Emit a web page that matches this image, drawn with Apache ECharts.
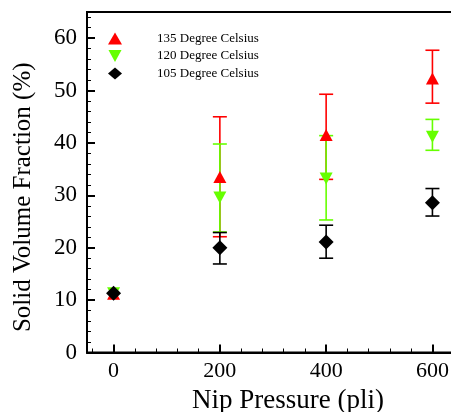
<!DOCTYPE html>
<html><head><meta charset="utf-8">
<script src="https://cdn.jsdelivr.net/npm/echarts@6/dist/echarts.min.js"></script>
<style>html,body{margin:0;padding:0;background:#fff}#c{width:451px;height:412px}</style>
</head><body><div id="c"></div>
<script>
var pressure = [0, 200, 400, 600];
var names = ['135 Degree Celsius', '120 Degree Celsius', '105 Degree Celsius'];
var colors = ['#ff0000', '#66ff00', '#000000'];
var v135 = [11.2, 33.5, 41.5, 52.3];
var lo135 = [null, 22.1, 33.05, 47.6];
var hi135 = [null, 45.0, 49.3, 57.7];
var v120 = [11.3, 29.6, 33.2, 41.2];
var lo120 = [null, 23.0, 25.3, 38.6];
var hi120 = [null, 39.8, 41.4, 44.5];
var v105 = [11.3, 20.0, 21.1, 28.6];
var lo105 = [null, 16.9, 18.0, 26.05];
var hi105 = [null, 22.9, 24.3, 31.3];
var xLabels = [0, 200, 400, 600];
var xMinor = [-40, 40, 80, 120, 160, 240, 280, 320, 360, 440, 480, 520, 560, 640];

var FONT = '"Liberation Serif", "DejaVu Serif", serif';
var symUp = 'triangle';
var symDown = 'path://M0,0L10,0L5,9.2Z';
var symDia = 'diamond';

function pts(v) { return pressure.map(function (p, i) { return [p, v[i]]; }); }
function errs(lo, hi) {
  var out = [];
  pressure.forEach(function (p, i) { if (lo[i] != null) out.push([p, lo[i], hi[i]]); });
  return out;
}
function errSeries(lo, hi, color) {
  return {
    type: 'custom', xAxisIndex: 0, yAxisIndex: 0, silent: true,
    data: errs(lo, hi),
    encode: { x: 0, y: [1, 2] },
    renderItem: function (params, api) {
      var x = api.value(0);
      var a = api.coord([x, api.value(1)]);
      var b = api.coord([x, api.value(2)]);
      var hw = 7;
      var st = { stroke: color, lineWidth: 1.6 };
      return { type: 'group', children: [
        { type: 'line', shape: { x1: a[0], y1: a[1], x2: b[0], y2: b[1] }, style: st },
        { type: 'line', shape: { x1: a[0] - hw, y1: a[1], x2: a[0] + hw, y2: a[1] }, style: st },
        { type: 'line', shape: { x1: b[0] - hw, y1: b[1], x2: b[0] + hw, y2: b[1] }, style: st }
      ]};
    }
  };
}
function scat(name, v, sym, size, color) {
  return { type: 'scatter', name: name, data: pts(v), symbol: sym, symbolSize: size,
    itemStyle: { color: color, opacity: 1 }, xAxisIndex: 0, yAxisIndex: 0 };
}

var chart = echarts.init(document.getElementById('c'), null, { renderer: 'canvas' });
chart.setOption({
  animation: false,
  backgroundColor: '#fff',
  grid: { left: 87, top: 12, right: -8, bottom: 59.5, show: true, borderColor: '#000', borderWidth: 2,
    containLabel: false, outerBoundsMode: 'none' },
  legend: {
    orient: 'vertical', left: 103, top: 27, itemWidth: 14, itemHeight: 12, itemGap: 4.5,
    textStyle: { fontFamily: FONT, fontSize: 13, color: '#000', padding: [0, 0, 0, 30] },
    data: [
      { name: names[0], icon: symUp },
      { name: names[1], icon: symDown },
      { name: names[2], icon: symDia }
    ]
  },
  xAxis: [{
    type: 'value', min: -50, max: 650, position: 'bottom',
    name: 'Nip Pressure (pli)', nameLocation: 'middle', nameGap: 34,
    nameTextStyle: { fontFamily: FONT, fontSize: 27, color: '#000', padding: [0, 0, 0, 30] },
    axisLine: { show: true, onZero: false, lineStyle: { color: '#000', width: 2 } },
    axisTick: { show: true, inside: true, length: 8, customValues: xLabels, lineStyle: { color: '#000', width: 2 } },
    axisLabel: { customValues: xLabels, fontFamily: FONT, fontSize: 22, color: '#000', margin: 8 },
    splitLine: { show: false }
  }, {
    type: 'value', min: -50, max: 650, position: 'bottom', offset: 0,
    axisLine: { show: false, onZero: false },
    axisTick: { show: true, inside: true, length: 4, customValues: xMinor, lineStyle: { color: '#000', width: 1 } },
    axisLabel: { show: true, customValues: xMinor, color: 'rgba(0,0,0,0)', fontSize: 1 },
    splitLine: { show: false }
  }],
  yAxis: {
    type: 'value', min: 0, max: 65, interval: 10,
    name: 'Solid Volume Fraction (%)', nameLocation: 'middle', nameGap: 51,
    nameTextStyle: { fontFamily: FONT, fontSize: 25, color: '#000', padding: [0, 30, 0, 0] },
    axisLine: { show: true, onZero: false, lineStyle: { color: '#000', width: 2 } },
    axisTick: { show: true, inside: true, length: 8, lineStyle: { color: '#000', width: 2 } },
    minorTick: { show: true, splitNumber: 5, length: 4, lineStyle: { color: '#000', width: 1 } },
    axisLabel: { fontFamily: FONT, fontSize: 23, color: '#000', margin: 10, showMaxLabel: false },
    splitLine: { show: false }
  },
  series: [
    errSeries(lo135, hi135, colors[0]),
    scat(names[0], v135, symUp, [13, 12], colors[0]),
    errSeries(lo120, hi120, colors[1]),
    scat(names[1], v120, symDown, [13, 12], colors[1]),
    errSeries(lo105, hi105, colors[2]),
    scat(names[2], v105, symDia, [15, 15], colors[2])
  ]
});
</script></body></html>
